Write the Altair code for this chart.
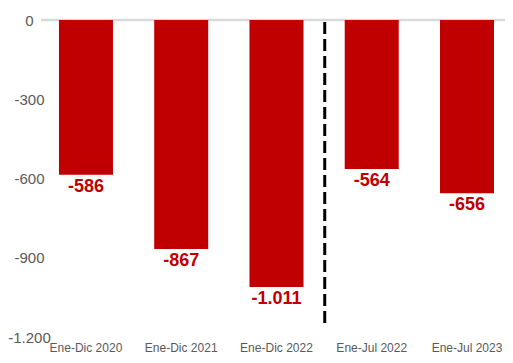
import altair as alt
import pandas as pd

categories = ["Ene-Dic 2020", "Ene-Dic 2021", "Ene-Dic 2022", "Ene-Jul 2022", "Ene-Jul 2023"]
values = [-586, -867, -1011, -564, -656]
y_ticks = [0, -300, -600, -900, -1200]
divider_before = ["Ene-Jul 2022"]
divider_span = [-8, -1150]

def es_fmt(v):
    return f"{v:,}".replace(",", ".")

df = pd.DataFrame({"cat": categories, "val": values, "lbl": [es_fmt(v) for v in values]})
div_df = pd.DataFrame({"cat": divider_before, "y1": [divider_span[0]], "y2": [divider_span[1]]})
zero_df = pd.DataFrame({"val": [0]})

RED = "#C00000"
GREY = "#595959"
FONT = "Liberation Sans, Arial, sans-serif"

xscale = alt.Scale(domain=categories, paddingInner=0.433, paddingOuter=0.152, align=0.62)
yscale = alt.Scale(domain=[-1200, 0], nice=False, zero=False)

x_axis = alt.Axis(title=None, orient="bottom", domain=False, ticks=False, labelAngle=0,
                  labelFont=FONT, labelFontSize=12, labelColor=GREY, labelPadding=5)
y_axis = alt.Axis(title=None, values=y_ticks, grid=False, domain=False, ticks=False, tickSize=0,
                  labelFont=FONT, labelFontSize=15, labelColor=GREY, labelAlign="center",
                  labelPadding=12,
                  labelExpr="replace(replace(format(datum.value, ','), ',', '.'), '\u2212', '-')")

zero = alt.Chart(zero_df).mark_rule(color="#d9d9d9", strokeWidth=2.5).encode(
    y=alt.Y("val:Q", scale=yscale, axis=y_axis))

bars = alt.Chart(df).mark_bar(color=RED).encode(
    x=alt.X("cat:N", scale=xscale, sort=categories, axis=x_axis),
    y=alt.Y("val:Q", scale=yscale, axis=y_axis))

labels = alt.Chart(df).mark_text(
    baseline="top", dy=3, font=FONT, fontSize=18, fontWeight="bold", color=RED
).encode(x=alt.X("cat:N", scale=xscale, sort=categories, axis=x_axis),
         y=alt.Y("val:Q", scale=yscale, axis=y_axis), text="lbl:N")

divider = alt.Chart(div_df).mark_rule(
    color="black", strokeWidth=3, strokeDash=[12, 5], xOffset=-20
).encode(x=alt.X("cat:N", scale=xscale, sort=categories, bandPosition=0, axis=x_axis),
         y=alt.Y("y1:Q", scale=yscale, axis=y_axis), y2="y2:Q")

chart = alt.layer(zero, bars, labels, divider).properties(
    width=464, height=317,
    autosize=alt.AutoSizeParams(type="none"),
    padding={"left": 33, "top": 12, "right": 0, "bottom": 18},
).configure_view(stroke=None)

chart.save("out.html", embed_options={"renderer": "svg", "actions": False})
